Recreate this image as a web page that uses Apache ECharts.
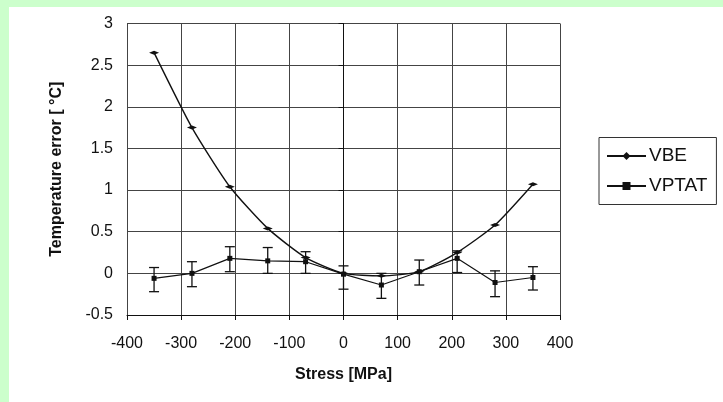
<!DOCTYPE html>
<html>
<head>
    <meta charset="UTF-8">
    <title>Temperature error vs stress</title>
    <script src="https://cdn.jsdelivr.net/npm/echarts@6/dist/echarts.min.js"></script>
</head>
<style>
    html, body {
        margin: 0;
        padding: 0;
        background-color: #ccffcc;
        width: 723px;
        height: 402px;
        overflow: hidden;
    }
    #chart {
        position: absolute;
        left: 9px;
        top: 7px;
        width: 714px;
        height: 395px;
        background-color: #fff;
    }
</style>
<body>
<div id="chart"></div>
<script>
// stress points [MPa]
const stress = [-350, -280, -210, -140, -70, 0, 70, 140, 210, 280, 350];
// VBE temperature error [°C]
const vbe = [2.65, 1.75, 1.04, 0.54, 0.19, 0.0, -0.03, 0.02, 0.25, 0.58, 1.07];
// VPTAT temperature error and its error bar ends
const vptat = [-0.06, 0.0, 0.18, 0.15, 0.14, -0.01, -0.14, 0.02, 0.18, -0.11, -0.05];
const vptatLow = [-0.22, -0.16, 0.02, 0.0, 0.0, -0.19, -0.30, -0.14, 0.01, -0.28, -0.20];
const vptatHigh = [0.07, 0.14, 0.32, 0.31, 0.26, 0.09, 0.0, 0.16, 0.27, 0.03, 0.08];

const fontFamily = '"Liberation Sans", Arial, sans-serif';

const chart = echarts.init(document.getElementById('chart'));

function errorBar(params, api) {
    const x = api.value(0);
    const top = api.coord([x, api.value(2)]);
    const bottom = api.coord([x, api.value(1)]);
    const half = 5;
    const style = { stroke: '#111', lineWidth: 1.3 };
    return {
        type: 'group',
        children: [
            { type: 'line', shape: { x1: top[0], y1: top[1], x2: bottom[0], y2: bottom[1] }, style: style },
            { type: 'line', shape: { x1: top[0] - half, y1: top[1], x2: top[0] + half, y2: top[1] }, style: style },
            { type: 'line', shape: { x1: bottom[0] - half, y1: bottom[1], x2: bottom[0] + half, y2: bottom[1] }, style: style }
        ]
    };
}

const option = {
    animation: false,
    textStyle: { fontFamily: fontFamily },
    grid: {
        left: 118,
        right: 163,
        top: 16.5,
        bottom: 87
    },
    legend: {
        orient: 'vertical',
        left: 590,
        top: 130.5,
        padding: [9, 9, 9, 7],
        itemWidth: 39,
        itemHeight: 10,
        itemGap: 11,
        borderColor: '#333',
        borderWidth: 1,
        textStyle: { fontSize: 19, color: '#111', fontFamily: fontFamily, padding: [0, 0, 0, -2] },
        data: ['VBE', 'VPTAT']
    },
    xAxis: {
        type: 'value',
        min: -400,
        max: 400,
        interval: 100,
        name: 'Stress [MPa]',
        nameLocation: 'middle',
        nameGap: 52,
        nameTextStyle: { fontSize: 16, fontWeight: 'bold', color: '#111' },
        axisLine: { onZero: false, lineStyle: { color: '#111', width: 1 } },
        axisTick: { show: true, length: 5, lineStyle: { color: '#111' } },
        axisLabel: { fontSize: 16, color: '#111', margin: 21 },
        splitLine: { show: true, lineStyle: { color: '#444', width: 1 } }
    },
    yAxis: {
        type: 'value',
        min: -0.5,
        max: 3,
        interval: 0.5,
        name: 'Temperature error [ °C]',
        nameLocation: 'middle',
        nameGap: 62,
        nameTextStyle: { fontSize: 16, fontWeight: 'bold', color: '#111' },
        axisLine: { show: true, lineStyle: { color: '#111', width: 1 } },
        axisTick: { show: true, length: 5, lineStyle: { color: '#111' } },
        axisLabel: { fontSize: 16, color: '#111', margin: 14 },
        splitLine: { show: true, lineStyle: { color: '#444', width: 1 } }
    },
    series: [
        {
            name: 'VBE',
            type: 'line',
            smooth: 0.2,
            data: stress.map((s, i) => [s, vbe[i]]),
            symbol: 'path://M0,2 L5,0 L10,2 L5,4 Z',
            symbolSize: [10, 4],
            showSymbol: true,
            itemStyle: { color: '#111' },
            lineStyle: { color: '#111', width: 1.4 },
            z: 4
        },
        {
            name: 'VPTAT',
            type: 'line',
            data: stress.map((s, i) => [s, vptat[i]]),
            symbol: 'rect',
            symbolSize: 5,
            itemStyle: { color: '#111' },
            lineStyle: { color: '#111', width: 1.2 },
            z: 4
        },
        {
            name: 'VPTAT error',
            type: 'custom',
            renderItem: errorBar,
            data: stress.map((s, i) => [s, vptatLow[i], vptatHigh[i]]),
            encode: { x: 0, y: [1, 2] },
            z: 5
        }
    ]
};

chart.setOption(option);
</script>
</body>
</html>
